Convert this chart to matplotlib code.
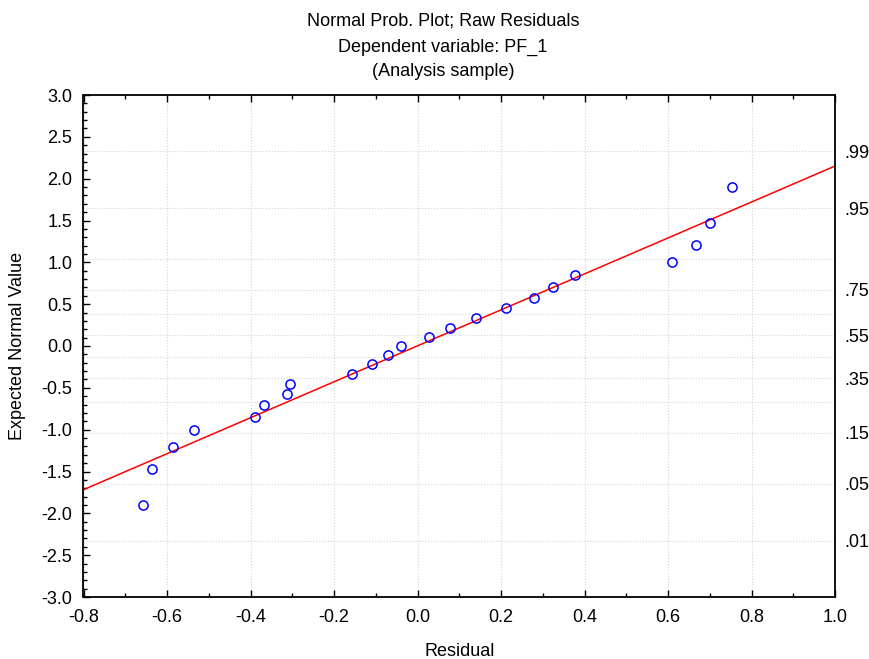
import matplotlib
matplotlib.use("Agg")
import matplotlib.pyplot as plt
from matplotlib.ticker import MultipleLocator
from statistics import NormalDist

plt.rcParams['font.family'] = ['Liberation Sans', 'DejaVu Sans']

# Raw residuals (sorted) and their expected normal values
residuals = [-0.657, -0.637, -0.586, -0.536, -0.389, -0.368, -0.313, -0.305,
             -0.156, -0.108, -0.070, -0.040, 0.028, 0.078, 0.140, 0.211,
             0.280, 0.325, 0.378, 0.610, 0.667, 0.700, 0.753]
expected = [-1.905, -1.467, -1.210, -1.008, -0.847, -0.700, -0.572, -0.450,
            -0.330, -0.217, -0.110, 0.000, 0.110, 0.217, 0.330, 0.450,
            0.572, 0.700, 0.847, 1.008, 1.210, 1.467, 1.905]

# Reference line through the points
line_intercept = 0.002
line_slope = 2.149

# Cumulative probability levels for the right-hand scale and grid
grid_probs = [0.01, 0.05, 0.15, 0.25, 0.35, 0.45, 0.55, 0.65, 0.75, 0.85, 0.95, 0.99]
label_probs = [0.01, 0.05, 0.15, 0.35, 0.55, 0.75, 0.95, 0.99]
label_texts = ['.01', '.05', '.15', '.35', '.55', '.75', '.95', '.99']

title_lines = ["Normal Prob. Plot; Raw Residuals",
               "Dependent variable: PF_1",
               "(Analysis sample)"]

nd = NormalDist()
FS = 13

fig = plt.figure(figsize=(8.7, 6.59), dpi=100)
ax = fig.add_axes([83.5 / 870, 1 - 597 / 659, (835 - 83.5) / 870, (597 - 95) / 659])

xmin, xmax = -0.8, 1.0
ymin, ymax = -3.0, 3.0
ax.set_xlim(xmin, xmax)
ax.set_ylim(ymin, ymax)

# grid: vertical at major x ticks, horizontal at probability levels
ax.xaxis.set_major_locator(MultipleLocator(0.2))
ax.xaxis.set_minor_locator(MultipleLocator(0.1))
ax.yaxis.set_major_locator(MultipleLocator(0.5))
ax.yaxis.set_minor_locator(MultipleLocator(0.1))
ax.grid(axis='x', which='major', color='#d4d4d4', linestyle=':', linewidth=0.8, zorder=0)
for p in grid_probs:
    ax.axhline(nd.inv_cdf(p), color='#d4d4d4', linestyle=':', linewidth=0.8, zorder=0)
ax.set_axisbelow(True)

# fitted line
xs = [xmin, xmax]
ax.plot(xs, [line_intercept + line_slope * x for x in xs], color='#ff0000',
        linewidth=1.1, zorder=2)

# points
ax.plot(residuals, expected, linestyle='none', marker='o', markersize=6.6,
        markerfacecolor='none', markeredgecolor='#0000ff', markeredgewidth=1.1,
        zorder=3)

ax.set_xticklabels([f"{v:.1f}" for v in ax.get_xticks()])
ax.set_yticklabels([f"{v:.1f}" for v in ax.get_yticks()])

ax.tick_params(which='both', direction='in', top=True, right=True,
               labelsize=FS, colors='black', width=1.0)
ax.tick_params(which='major', length=5)
ax.tick_params(axis='y', which='major', pad=8)
ax.tick_params(axis='x', which='major', pad=9)
ax.tick_params(which='minor', length=3)
for s in ax.spines.values():
    s.set_linewidth(1.3)

# right-hand probability labels
ax2 = ax.twinx()
ax2.set_ylim(ymin, ymax)
ax2.set_yticks([nd.inv_cdf(p) for p in label_probs])
ax2.set_yticklabels(label_texts)
ax2.tick_params(axis='y', length=0, pad=7, labelsize=FS)
for s in ax2.spines.values():
    s.set_visible(False)

ax.set_xlabel("Residual", fontsize=FS, labelpad=12)
ax.set_ylabel("Expected Normal Value", fontsize=FS, labelpad=11)

title_y = [21, 47, 72]
for line, py in zip(title_lines, title_y):
    fig.text(443 / 870, 1 - py / 659, line, ha='center', va='center', fontsize=FS)

fig.savefig("out.png", dpi=100)
